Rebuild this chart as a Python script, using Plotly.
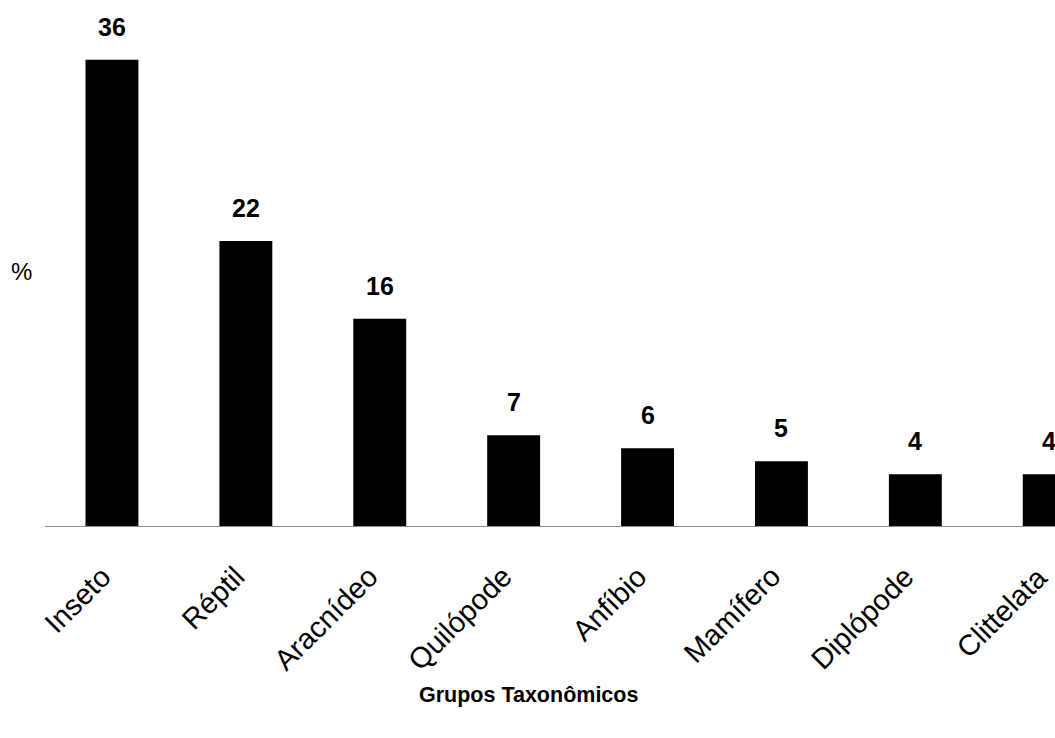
import plotly.graph_objects as go

categories = ["Inseto", "Réptil", "Aracnídeo", "Quilópode", "Anfíbio", "Mamífero", "Diplópode", "Clittelata"]
values = [36, 22, 16, 7, 6, 5, 4, 4]
value_labels = ["36", "22", "16", "7", "6", "5", "4", "4"]

FONT = "Arial, Liberation Sans, sans-serif"
W, H = 1055, 738
L, R, T, B = 45, 0, 8, 212
pw = W - L - R
ph = H - T - B
spacing = 133.9

fig = go.Figure()
fig.add_trace(go.Bar(
    x=list(range(len(categories))), y=values,
    marker=dict(color="black", line=dict(width=0)),
    width=0.395,
))

for i, (v, t) in enumerate(zip(values, value_labels)):
    fig.add_annotation(x=i, y=v, text="<b>" + t + "</b>", showarrow=False, yanchor="bottom",
                       yshift=17, font=dict(family=FONT, size=25, color="black"))

# rotated category labels
for i, c in enumerate(categories):
    fig.add_annotation(x=i, xref="x", y=0, yref="paper", text=c, showarrow=False,
                       textangle=-45, xanchor="right", yanchor="top",
                       xshift=6, yshift=-33, borderpad=0,
                       font=dict(family=FONT, size=29, color="black"))

fig.add_annotation(xref="paper", yref="paper", x=(21 - L) / pw, y=(T + ph - 271) / ph,
                   text="%", showarrow=False, xanchor="center", yanchor="middle",
                   font=dict(family=FONT, size=24, color="black"))
fig.add_annotation(xref="paper", yref="paper", x=(528 - L) / pw, y=(T + ph - 695) / ph,
                   text="<b>Grupos Taxonômicos</b>", showarrow=False, xanchor="center", yanchor="middle",
                   font=dict(family=FONT, size=21.5, color="black"))

fig.update_layout(
    width=W, height=H,
    margin=dict(l=L, r=R, t=T, b=B),
    paper_bgcolor="white", plot_bgcolor="white",
    showlegend=False,
    xaxis=dict(
        range=[-0.5, -0.5 + pw / spacing],
        tickvals=list(range(len(categories))), showticklabels=False,
        showline=True, linecolor="#8c8c8c", linewidth=1, ticks="",
        showgrid=False, zeroline=False, automargin=False,
    ),
    yaxis=dict(range=[0, ph / 12.95], showticklabels=False, showgrid=False,
               zeroline=False, showline=False, ticks=""),
)

fig.write_html("out.html")
